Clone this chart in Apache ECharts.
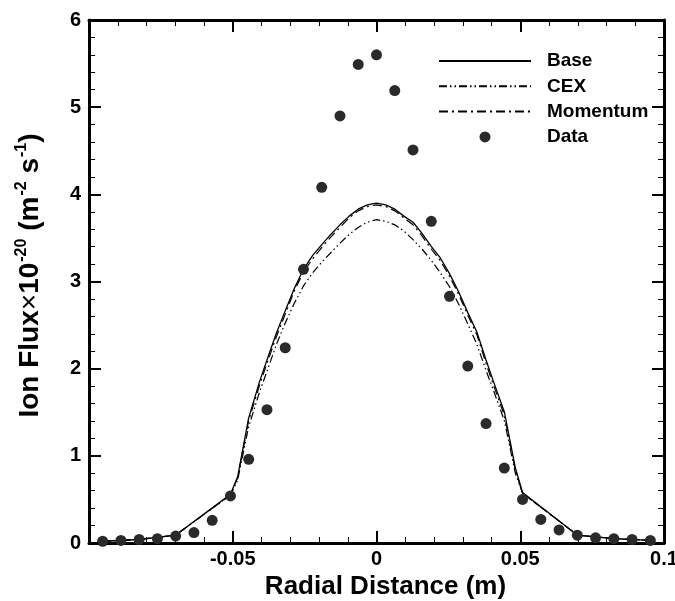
<!DOCTYPE html>
<html>
<head>
<meta charset="utf-8">
<script src="https://cdn.jsdelivr.net/npm/echarts@6/dist/echarts.min.js"></script>
<style>html,body{margin:0;padding:0;background:#fff}#c{width:675px;height:601px}</style>
</head>
<body>
<div id="c"></div>
<script>
// ---- data ----
var curveX = [-0.0953,-0.0826,-0.0699,-0.0508,-0.0483,-0.0445,-0.0406,-0.0381,-0.0349,-0.0318,-0.0286,-0.0254,-0.0222,-0.0191,-0.0159,-0.0127,-0.0095,-0.0064,-0.0032,0,
              0.0032,0.0064,0.0095,0.0127,0.0159,0.0191,0.0222,0.0254,0.0286,0.0318,0.0349,0.0381,0.0406,0.0445,0.0483,0.0508,0.0699,0.0826,0.0953];
var baseY = [0.02,0.04,0.09,0.56,0.76,1.43,1.86,2.10,2.40,2.66,2.92,3.14,3.30,3.42,3.54,3.65,3.75,3.83,3.88,3.90,
             3.88,3.83,3.75,3.68,3.55,3.40,3.27,3.09,2.88,2.64,2.42,2.10,1.86,1.50,0.86,0.58,0.09,0.05,0.03];
var cexY = [0.02,0.04,0.09,0.55,0.72,1.33,1.74,1.97,2.27,2.52,2.75,2.95,3.10,3.22,3.33,3.44,3.54,3.62,3.68,3.71,
            3.69,3.65,3.58,3.48,3.37,3.24,3.10,2.94,2.74,2.51,2.28,1.98,1.76,1.40,0.80,0.57,0.09,0.05,0.03];
var momY = [0.02,0.04,0.09,0.55,0.75,1.40,1.82,2.06,2.36,2.62,2.89,3.11,3.26,3.39,3.51,3.62,3.73,3.81,3.86,3.88,
            3.86,3.81,3.73,3.65,3.52,3.37,3.24,3.06,2.85,2.61,2.39,2.06,1.82,1.46,0.84,0.57,0.09,0.05,0.03];
var dataX = [-0.09525,-0.0889,-0.08255,-0.0762,-0.06985,-0.0635,-0.05715,-0.0508,-0.04445,-0.0381,-0.03175,-0.0254,-0.01905,-0.0127,-0.00635,0,
             0.00635,0.0127,0.01905,0.0254,0.03175,0.0381,0.04445,0.0508,0.05715,0.0635,0.06985,0.0762,0.08255,0.0889,0.09525];
var dataY = [0.02,0.03,0.04,0.05,0.08,0.12,0.26,0.54,0.96,1.53,2.24,3.14,4.08,4.90,5.49,5.60,
             5.19,4.51,3.69,2.83,2.03,1.37,0.86,0.50,0.27,0.15,0.09,0.06,0.05,0.04,0.03];
var xTicks = {min:-0.1, max:0.1, step:0.05};
var yTicks = {min:0, max:6, step:1};
var seriesNames = ['Base','CEX','Momentum','Data'];

function pairs(xs, ys){ return xs.map(function(x,i){ return [x, ys[i]]; }); }

var FONT = '"Liberation Sans", Arial, Helvetica, sans-serif';
var axisLineStyle = {color:'#000', width:3};
function mainAxisCommon(){
  return {
    axisLine:{show:true, onZero:false, lineStyle:axisLineStyle},
    axisTick:{show:true, inside:true, length:12, lineStyle:{color:'#000', width:2}},
    minorTick:{show:true, splitNumber:5, length:6, lineStyle:{color:'#000', width:1}},
    splitLine:{show:false}, minorSplitLine:{show:false}
  };
}

var chart = echarts.init(document.getElementById('c'), null, {renderer:'canvas'});
var xMain = Object.assign(mainAxisCommon(), {
  type:'value', min:xTicks.min, max:xTicks.max, interval:xTicks.step, position:'bottom',
  axisLabel:{show:true, margin:6, color:'#000', fontFamily:FONT, fontWeight:'bold', fontSize:20,
    showMinLabel:true, showMaxLabel:true,
    formatter:function(v){ if (Math.abs(v - xTicks.min) < 1e-9) return ''; return String(+v.toFixed(3)); }},
  name:'Radial Distance (m)', nameLocation:'middle', nameGap:31,
  nameTextStyle:{color:'#000', fontFamily:FONT, fontWeight:'bold', fontSize:26, padding:[0,0,0,18]}
});
var xTop = Object.assign(mainAxisCommon(), {
  type:'value', min:xTicks.min, max:xTicks.max, interval:xTicks.step, position:'top',
  axisLabel:{show:false}
});
var yMain = Object.assign(mainAxisCommon(), {
  type:'value', min:yTicks.min, max:yTicks.max, interval:yTicks.step, position:'left',
  axisLabel:{show:true, margin:8, color:'#000', fontFamily:FONT, fontWeight:'bold', fontSize:20},
  name:'{a|Ion Flux}{x|×}{a|10}{s|-20}{a| (m}{s|-2}{a| s}{s|-1}{a|)}',
  nameLocation:'middle', nameGap:43,
  nameTextStyle:{color:'#000', fontFamily:FONT, fontWeight:'bold', fontSize:28, padding:[0,0,0,12],
    rich:{
      a:{color:'#000', fontFamily:FONT, fontWeight:'bold', fontSize:28, lineHeight:32},
      x:{color:'#000', fontFamily:FONT, fontWeight:'normal', fontSize:28, lineHeight:32},
      s:{color:'#000', fontFamily:FONT, fontWeight:'bold', fontSize:16, lineHeight:32, verticalAlign:'top', padding:[0,0,0,1]}
    }}
});
var yRight = Object.assign(mainAxisCommon(), {
  type:'value', min:yTicks.min, max:yTicks.max, interval:yTicks.step, position:'right',
  axisLabel:{show:false}
});

var hiddenSym = {color:'rgba(0,0,0,0)', borderWidth:0, opacity:0};
chart.setOption({
  animation:false,
  backgroundColor:'#fff',
  grid:{left:89, right:11, top:20, bottom:58, containLabel:false, outerBoundsMode:'none'},
  legend:{
    data:[
      {name:seriesNames[0], itemStyle:hiddenSym},
      {name:seriesNames[1], itemStyle:hiddenSym},
      {name:seriesNames[2], itemStyle:hiddenSym},
      {name:seriesNames[3], icon:'circle'}
    ],
    orient:'vertical', align:'left', left:438, top:51, padding:0,
    itemWidth:92, itemHeight:11, itemGap:5.3,
    textStyle:{color:'#000', fontFamily:FONT, fontWeight:'bold', fontSize:19, lineHeight:20, padding:[0,0,0,11]}
  },
  xAxis:[xMain, xTop],
  yAxis:[yMain, yRight],
  series:[
    {name:seriesNames[0], type:'line', data:pairs(curveX, baseY), symbol:'none', z:3,
     lineStyle:{color:'#000', width:1.3, type:'solid'}, itemStyle:{color:'#000'}},
    {name:seriesNames[1], type:'line', data:pairs(curveX, cexY), symbol:'none', z:3,
     lineStyle:{color:'#000', width:1.2, type:[8,3,1.5,3,1.5,3]}, itemStyle:{color:'#000'}},
    {name:seriesNames[2], type:'line', data:pairs(curveX, momY), symbol:'none', z:3,
     lineStyle:{color:'#000', width:1.2, type:[9,4,2,4]}, itemStyle:{color:'#000'}},
    {name:seriesNames[3], type:'scatter', data:pairs(dataX, dataY), symbol:'circle', symbolSize:11, z:4,
     itemStyle:{color:'#2a2a2a', opacity:1}}
  ]
});
</script>
</body>
</html>
